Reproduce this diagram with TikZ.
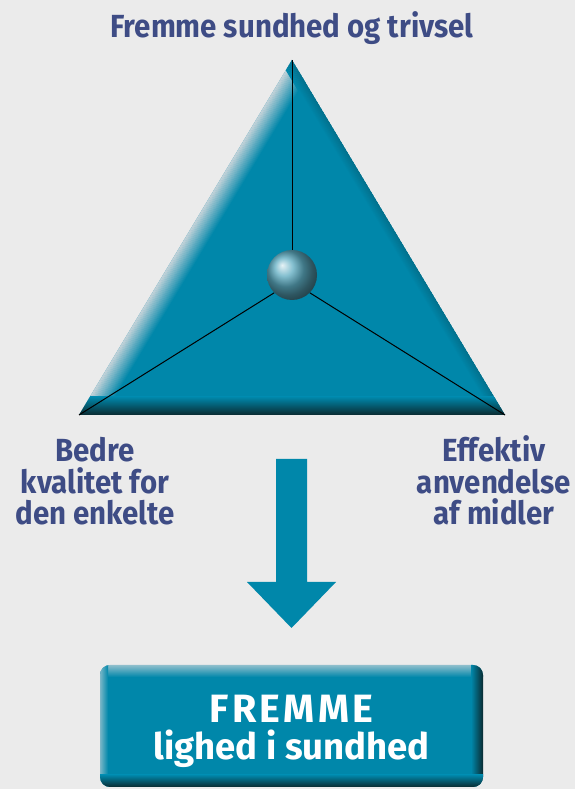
\documentclass[tikz,border=0pt]{standalone}
\usepackage{fontspec}
\setmainfont{Fira Sans}
\newfontfamily\labelfont{Fira Sans}[FakeStretch=0.92]
\newfontfamily\spacedfont{Fira Sans}[LetterSpace=8]
\usetikzlibrary{calc}

\definecolor{Tcolor}{HTML}{0087AA}
\definecolor{Bcolor}{HTML}{EBEBEB}
\definecolor{Lcolor}{HTML}{3E4C85}
\definecolor{Dcolor}{HTML}{0A2A30}
\definecolor{Hcolor}{HTML}{CBD6DB}

\tikzset{
  label/.style={text=Lcolor, font=\labelfont\bfseries\fontsize{32}{31.5}\selectfont, align=center, inner sep=0pt},
  boxtext/.style={text=white, font=\bfseries\fontsize{36.5}{37}\selectfont, inner sep=0pt},
  spoke/.style={black, line width=1pt},
}

\begin{document}
\begin{tikzpicture}[x=1pt, y=1pt]

% background
\fill[Bcolor] (0,0) rectangle (575,789);

\coordinate (top) at (292,729);
\coordinate (left) at (79,374);
\coordinate (right) at (505,374);

% triangle with bevel
\begin{scope}
\clip (top) -- (left) -- (right) -- cycle;
\fill[Tcolor] (top) -- (left) -- (right) -- cycle;
\foreach \k in {0,...,22}{
  \pgfmathsetmacro{\mix}{100-\k*100/22}
  \draw[line width=1.3pt, color=Hcolor!\mix!Tcolor]
    ($($(left)!-0.2!(top)$)+(0.8575*\k,-0.5145*\k)$) -- ($($(top)!-0.2!(left)$)+(0.8575*\k,-0.5145*\k)$);
}
\foreach \k in {0,...,10}{
  \pgfmathsetmacro{\mix}{25-\k*2.5}
  \draw[line width=1.3pt, color=Dcolor!\mix!Tcolor]
    ($($(right)!-0.2!(top)$)+(-0.8575*\k,-0.5145*\k)$) -- ($($(top)!-0.2!(right)$)+(-0.8575*\k,-0.5145*\k)$);
}
\shade[top color=Tcolor, bottom color=Dcolor] (60,374) rectangle (520,392);
\end{scope}

% hub and spokes
\node (hub) [circle, minimum size=50pt, inner sep=0pt] at (292,514) {};
\draw[spoke] (top) -- (hub.north);
\draw[spoke] (hub.south west) -- (left);
\draw[spoke] (hub.south east) -- (right);
\shade[ball color=Tcolor!55!Hcolor] (hub.center) circle (25);

% texts
\node (title) [label, anchor=base] at (292,751) {Fremme sundhed og trivsel};
\node (quality) [label, anchor=base] at (95,264) {Bedre\\kvalitet for\\den enkelte};
\node (means) [label, anchor=base] at (494,264) {Effektiv\\anvendelse\\af midler};

% down arrow
\fill[Tcolor] (276,330) -- (307,330) -- (307,207) -- (336,207) -- (291.5,161)
  -- (247,207) -- (276,207) -- cycle;

% result box
\begin{scope}
\clip[rounded corners=10pt] (100,2) rectangle (483,124);
\fill[Tcolor] (100,2) rectangle (483,124);
\shade[top color=Hcolor!70!Tcolor, bottom color=Tcolor] (100,112) rectangle (483,124);
\shade[left color=Tcolor, right color=Dcolor] (471,2) rectangle (483,124);
\shade[left color=Hcolor!60!Tcolor, right color=Tcolor] (100,2) rectangle (108,124);
\shade[top color=Tcolor, bottom color=Dcolor] (100,2) rectangle (483,14);
\end{scope}
\node (result) [boxtext, anchor=base, font=\spacedfont\bfseries\fontsize{39.5}{40}\selectfont] at (291.5,66) {FREMME};
\node (equity) [boxtext, anchor=base] at (291.5,29) {lighed i sundhed};

\end{tikzpicture}
\end{document}
